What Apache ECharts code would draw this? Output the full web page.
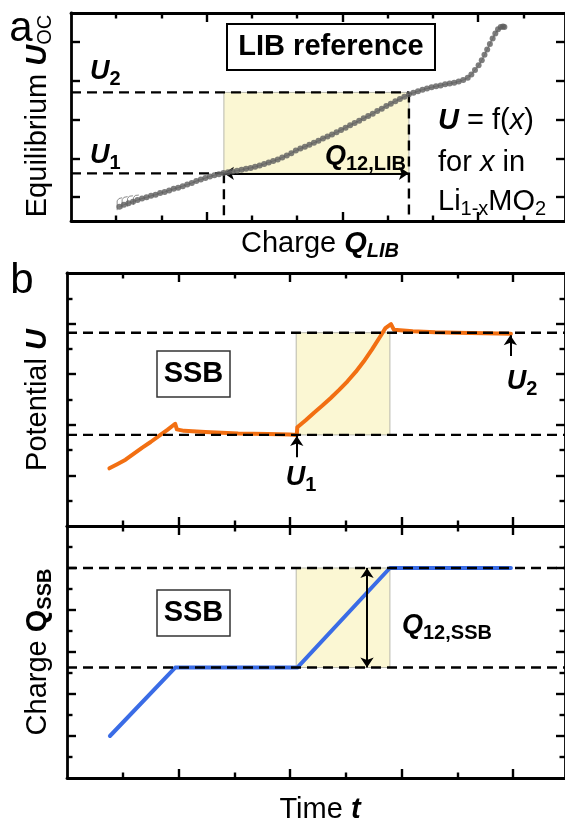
<!DOCTYPE html>
<html><head><meta charset="utf-8">
<script src="https://cdn.jsdelivr.net/npm/echarts@6/dist/echarts.min.js"></script>
<style>html,body{margin:0;padding:0;background:#fff}#c{width:565px;height:824px}</style>
</head><body><div id="c"></div>
<script>
// ---------- Panel a: LIB reference (charge Q_LIB vs equilibrium U_OC) ----------
const libQ = [1.07,1.17,1.27,1.37,1.47,1.57,1.67,1.77,1.87,1.97,2.07,2.17,2.27,2.37,2.47,2.57,2.67,2.77,2.87,2.97,3.07,3.17,3.27,3.37,
  3.47,3.57,3.67,3.77,3.87,3.97,4.07,4.17,4.27,4.37,4.47,4.57,4.67,4.77,4.87,4.97,
  5.07,5.17,5.27,5.37,5.47,5.57,5.67,5.77,5.87,5.97,6.07,6.17,6.27,6.37,6.47,6.57,6.67,6.77,6.87,6.97,7.07,7.17,7.27,7.37,7.47,
  7.57,7.67,7.77,7.87,7.97,8.07,8.17,8.27,8.37,8.47,8.57,8.67,8.77,
  8.85,8.93,9.01,9.08,9.14,9.20,9.26,9.32,9.38,9.44,9.50,9.55,9.58];
const libU = [0.75,0.80,0.84,0.88,0.92,0.96,0.99,1.03,1.06,1.10,1.13,1.17,1.21,1.24,1.28,1.32,1.36,1.41,1.45,1.49,1.53,1.56,1.59,1.62,
  1.64,1.66,1.68,1.70,1.73,1.75,1.78,1.81,1.85,1.89,1.93,1.97,2.02,2.07,2.13,2.20,
  2.25,2.30,2.35,2.40,2.45,2.51,2.56,2.61,2.67,2.73,2.79,2.85,2.91,2.97,3.03,3.09,3.15,3.22,3.28,3.35,3.41,3.47,3.53,3.59,3.65,
  3.69,3.73,3.77,3.80,3.83,3.86,3.88,3.91,3.93,3.95,3.98,4.02,4.08,
  4.16,4.28,4.40,4.53,4.67,4.81,4.95,5.09,5.22,5.33,5.39,5.40,5.39];
// relaxation hooks at the start of the LIB curve
const hookQ = [[1.02,1.02,1.06,1.13],[1.13,1.13,1.17,1.25],[1.25,1.25,1.29,1.37],[1.38,1.38,1.42,1.50]];
const hookU = [[0.66,0.90,0.96,0.98],[0.70,0.93,0.99,1.01],[0.75,0.96,1.02,1.03],[0.80,0.98,1.04,1.05]];
const libU1 = 1.61, libU2 = 3.70;      // U1, U2 levels
const libQ1 = 3.38, libQ2 = 7.47;      // charge at U1, U2
const aXRange = [0, 10.92], aYRange = [0.38, 5.75];
const aXMajor = [3, 6, 9], aXMinor = [1, 2, 4, 5, 7, 8, 10];
const aYMajor = [1, 2, 3, 4, 5];

// ---------- Panel b: SSB, potential U vs time ----------
const timeU = [0.76,0.90,1.05,1.20,1.35,1.50,1.65,1.80,1.94,1.97,2.10,2.48,3.07,3.60,3.99,4.12,
  4.13,4.28,4.43,4.58,4.73,4.88,5.03,5.18,5.32,5.47,5.62,5.71,5.81,5.86,6.20,6.60,7.00,7.50,7.96];
const potU  = [1.14,1.22,1.31,1.43,1.55,1.66,1.78,1.90,2.02,1.91,1.88,1.86,1.83,1.82,1.81,1.80,
  1.95,2.09,2.24,2.38,2.53,2.69,2.86,3.05,3.25,3.49,3.75,3.91,3.99,3.88,3.85,3.83,3.82,3.81,3.80];
const bU1 = 1.80, bU2 = 3.82;
const bT1 = 4.11, bT2 = 5.79;          // time window of the step
const arrowU1 = [4.12, 1.36, 1.78];    // x, from, to
const arrowU2 = [7.95, 3.36, 3.77];
// ---------- Panel b: SSB, charge Q vs time ----------
const timeQ = [0.77, 1.94, 4.13, 5.79, 7.96];
const chargeQ = [1.00, 2.63, 2.63, 5.00, 5.00];
const bQ1 = 2.63, bQ2 = 5.00;
const arrowQ = [5.38, 2.63, 5.00];
const bXRange = [0, 8.93], bURange = [0, 5], bQRange = [0, 6];
const bXMajor = [2, 4, 6, 8], bXMinor = [1, 3, 5, 7];
const bUMajor = [1, 2, 3, 4], bUMinor = [0.5, 1.5, 2.5, 3.5, 4.5];
const bQMajor = [1, 2, 3, 4, 5], bQMinor = [0.5, 1.5, 2.5, 3.5, 4.5, 5.5];

// ---------------------------------------------------------------------
const F = "'Liberation Sans', Arial, Helvetica, sans-serif";
const xAxes = [], yAxes = [];
function mkAxis(grid, pos, range, ticks, len, line) {
  return { type: 'value', gridIndex: grid, position: pos, min: range[0], max: range[1], offset: 0,
    axisLine: { show: line, onZero: false, lineStyle: { color: '#000', width: 2.8 } },
    axisTick: { show: !!(ticks && ticks.length), inside: true, length: len, customValues: ticks,
      lineStyle: { color: '#000', width: 2.4 } },
    axisLabel: { show: false }, splitLine: { show: false }, minorTick: { show: false } };
}
function frame(grid, xr, yr, xMaj, xMin, yMaj, yMin) {
  const xi = xAxes.length, yi = yAxes.length;
  xAxes.push(mkAxis(grid, 'bottom', xr, xMaj, 9, true), mkAxis(grid, 'bottom', xr, xMin, 5.5, false),
             mkAxis(grid, 'top', xr, xMaj, 9, true), mkAxis(grid, 'top', xr, xMin, 5.5, false));
  yAxes.push(mkAxis(grid, 'left', yr, yMaj, 9, true), mkAxis(grid, 'left', yr, yMin, 5.5, false),
             mkAxis(grid, 'right', yr, yMaj, 9, true), mkAxis(grid, 'right', yr, yMin, 5.5, false));
  return { xi, yi };
}
const A = frame(0, aXRange, aYRange, aXMajor, aXMinor, aYMajor, []);
const B = frame(1, bXRange, bURange, bXMajor, bXMinor, bUMajor, bUMinor);
const C = frame(2, bXRange, bQRange, bXMajor, bXMinor, bQMajor, bQMinor);

const zip = (xs, ys) => xs.map((x, i) => [x, ys[i]]);
function line(ax, data, color, width, z, extra) {
  return Object.assign({ type: 'line', xAxisIndex: ax.xi, yAxisIndex: ax.yi, data, symbol: 'none',
    silent: true, animation: false, clip: false, z, lineStyle: { color, width, cap: 'butt' } }, extra || {});
}
const DASH = [10, 6];
function dash(ax, pts) { return line(ax, pts, '#000', 2.4, 4, { lineStyle: { color: '#000', width: 2.4, type: DASH } }); }
function box(ax, x1, y1, x2, y2) {
  return line(ax, [[x1, y1]], '#000', 0, 1, { markArea: { silent: true,
    itemStyle: { color: '#FBF7D3', borderColor: '#b9b9ad', borderWidth: 1 },
    data: [[{ coord: [x1, y1] }, { coord: [x2, y2] }]] } });
}
function arrow(ax, x, y0, y1, both, horiz) {
  const p0 = horiz ? [y0, x] : [x, y0], p1 = horiz ? [y1, x] : [x, y1];
  return line(ax, [p0], '#000', 0, 6, { markLine: { silent: true, symbol: [both ? 'arrow' : 'none', 'arrow'],
    symbolSize: 10, label: { show: false }, lineStyle: { color: '#000', width: 2, type: 'solid' },
    data: [[{ coord: p0 }, { coord: p1 }]] } });
}

const series = [
  // panel a
  box(A, libQ1, libU1, libQ2, libU2),
  dash(A, [[aXRange[0], libU2], [libQ2, libU2]]),
  dash(A, [[aXRange[0], libU1], [libQ1, libU1]]),
  dash(A, [[libQ1, libU1], [libQ1, aYRange[0]]]),
  dash(A, [[libQ2, libU2], [libQ2, aYRange[0]]]),
  arrow(A, libU1, libQ1, libQ2, true, true),
  line(A, zip(libQ, libU), '#9a9a9a', 1, 5),
  ...hookQ.map((h, i) => line(A, zip(h, hookU[i]), '#8c8c8c', 1, 5)),
  { type: 'scatter', xAxisIndex: A.xi, yAxisIndex: A.yi, data: zip(libQ, libU), symbol: 'circle', symbolSize: 6,
    itemStyle: { color: '#5e5e5e' }, silent: true, animation: false, z: 6 },
  // panel b, potential
  box(B, bT1, bU1, bT2, bU2),
  line(B, zip(timeU, potU), '#F26F12', 4, 3, { lineStyle: { color: '#F26F12', width: 4, join: 'round', cap: 'round' } }),
  dash(B, [[bXRange[0], bU1], [bXRange[1], bU1]]),
  dash(B, [[bXRange[0], bU2], [bXRange[1], bU2]]),
  arrow(B, arrowU1[0], arrowU1[1], arrowU1[2], false),
  arrow(B, arrowU2[0], arrowU2[1], arrowU2[2], false),
  // panel b, charge
  box(C, bT1, bQ1, bT2, bQ2),
  line(C, zip(timeQ, chargeQ), '#3A6CE6', 4, 3, { lineStyle: { color: '#3A6CE6', width: 4, join: 'round', cap: 'round' } }),
  dash(C, [[bXRange[0], bQ1], [bXRange[1], bQ1]]),
  dash(C, [[bXRange[0], bQ2], [bXRange[1], bQ2]]),
  arrow(C, arrowQ[0], arrowQ[1], arrowQ[2], true)
];

// ---------- text ----------
function rs(fs, extra) { return Object.assign({ fontFamily: F, fontSize: fs, fill: '#000', color: '#000' }, extra || {}); }
const SP = [15, 0, 0, 0];
const R = {
  n: rs(29), i: rs(29, { fontStyle: 'italic' }), b: rs(29, { fontWeight: 'bold' }),
  bi: rs(29, { fontWeight: 'bold', fontStyle: 'italic' }),
  s: rs(20, { padding: SP }), sb: rs(20, { fontWeight: 'bold', padding: SP }),
  sbi: rs(20, { fontWeight: 'bold', fontStyle: 'italic', padding: SP }),
  u: rs(27, { fontWeight: 'bold', fontStyle: 'italic' }),
  us: rs(20, { fontWeight: 'bold', padding: SP }),
  big: rs(42)
};
function T(x, y, text, align, rot) {
  return { type: 'text', x, y, rotation: rot || 0, z: 50, silent: true,
    style: { text, rich: R, align: align || 'left', verticalAlign: 'middle', fill: '#000', fontFamily: F, fontSize: 29 } };
}
function rect(x, y, w, h, lw, c) {
  return { type: 'rect', z: 49, silent: true, shape: { x, y, width: w, height: h },
    style: { fill: '#fff', stroke: c, lineWidth: lw } };
}
const V = Math.PI / 2;
const graphic = [
  T(21, 29, '{big|a}', 'center'),
  T(22, 281, '{big|b}', 'center'),
  rect(227, 24, 208, 46, 2, '#000'), T(331, 47, '{b|LIB reference}', 'center'),
  T(90, 72, '{u|U}{us|2}'),
  T(90, 156, '{u|U}{us|1}'),
  T(406, 157, '{u|Q}{us|12,LIB}', 'right'),
  T(438, 121, '{bi|U}{n| = f(}{i|x}{n|)}'),
  T(438, 163, '{n|for }{i|x}{n| in}'),
  T(438, 202, '{n|Li}{s|1-x}{n|MO}{s|2}'),
  T(320, 244, '{n|Charge }{bi|Q}{sbi|LIB}', 'center'),
  T(38, 116, '{n|Equilibrium }{bi|U}{s|OC}', 'center', V),
  T(38, 400, '{n|Potential }{bi|U}', 'center', V),
  T(38, 652, '{n|Charge }{b|Q}{sb|SSB}', 'center', V),
  T(320, 810, '{n|Time }{bi|t}', 'center'),
  rect(157, 351, 73, 46, 1.5, '#333'), T(193.5, 374, '{b|SSB}', 'center'),
  rect(157, 590, 73, 46, 1.5, '#333'), T(193.5, 613, '{b|SSB}', 'center'),
  T(301, 478, '{u|U}{us|1}', 'center'),
  T(522, 382, '{u|U}{us|2}', 'center'),
  T(402, 626, '{u|Q}{us|12,SSB}')
];

const chart = echarts.init(document.getElementById('c'), null, { renderer: 'canvas' });
chart.setOption({
  animation: false,
  backgroundColor: '#fff',
  grid: [
    { left: 71, top: 13, width: 498, height: 208 },
    { left: 67, top: 273, width: 502, height: 253 },
    { left: 67, top: 526, width: 502, height: 252 }
  ],
  xAxis: xAxes, yAxis: yAxes, series, graphic
});
</script></body></html>
